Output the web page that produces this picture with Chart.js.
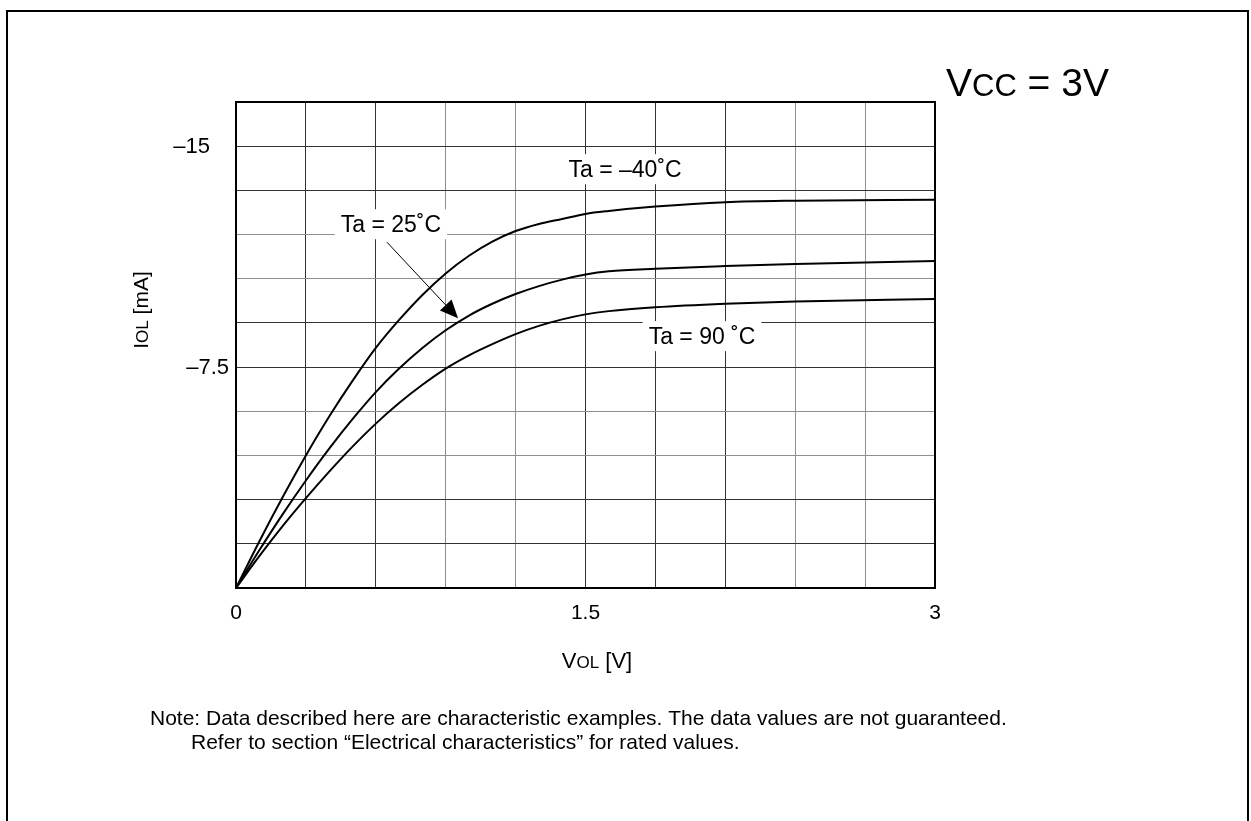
<!DOCTYPE html>
<html>
<head>
<meta charset="utf-8">
<script src="https://cdn.jsdelivr.net/npm/chart.js@4/dist/chart.umd.min.js"></script>
<style>
  html, body { margin: 0; padding: 0; background: #fff; }
  #wrap { width: 1251px; height: 821px; }
</style>
</head>
<body>
<div id="wrap"><canvas id="myChart" width="1251" height="821"></canvas></div>
<script>
// VOL [V] sample points, shared by the three curves
const vol = [0, 0.1, 0.2, 0.3, 0.4, 0.5, 0.6, 0.7, 0.8, 0.9, 1.0, 1.1, 1.2, 1.3, 1.4, 1.5, 1.6, 1.8, 2.1, 2.4, 3.0];

// IOL [mA]
const iolM40 = [0, -1.58, -3.08, -4.5, -5.82, -7.03, -8.15, -9.1, -9.95, -10.68, -11.28, -11.76, -12.12, -12.36, -12.53, -12.7, -12.8, -12.95, -13.1, -13.15, -13.18];
const iol25  = [0, -1.28, -2.5, -3.65, -4.73, -5.73, -6.65, -7.45, -8.15, -8.75, -9.25, -9.65, -9.98, -10.25, -10.47, -10.64, -10.75, -10.84, -10.93, -11.0, -11.1];
const iol90  = [0, -1.08, -2.1, -3.05, -3.95, -4.8, -5.58, -6.28, -6.9, -7.45, -7.9, -8.28, -8.62, -8.9, -9.12, -9.29, -9.4, -9.53, -9.65, -9.73, -9.81];

// tick labels
const xTickValues = [0, 1.5, 3];
const xTickLabels = ["0", "1.5", "3"];
const yTickValues = [-15, -7.5];
const yTickLabels = ["–15", "–7.5"];

// curve labels: text and anchor in data units
const curveLabels = ["Ta = –40˚C", "Ta = 25˚C", "Ta = 90 ˚C"];
const labelAt = [[1.67, -14.22], [0.665, -12.35], [2.0, -8.55]];
// arrow for the 25˚C label (from, to) in data units
const arrowFrom = [0.648, -11.74];
const arrowTo = [0.953, -9.16];

const FONT = "'Liberation Sans', Arial, sans-serif";

function toPts(ys) {
    return vol.map((v, i) => ({ x: v, y: ys[i] }));
}

function near(a, b) { return Math.abs(a - b) < 1e-6; }

// texte avec petites majuscules (IOL, VOL, VCC)
function drawSub(ctx, parts, x, y, align) {
    let total = 0;
    parts.forEach(p => { ctx.font = p.size + "px " + FONT; total += ctx.measureText(p.t).width; });
    let cx = align === "center" ? x - total / 2 : x;
    ctx.textAlign = "left";
    parts.forEach(p => {
        ctx.font = p.size + "px " + FONT;
        ctx.fillText(p.t, cx, y);
        cx += ctx.measureText(p.t).width;
    });
}

const decor = {
    id: "decor",
    beforeDraw(chart) {
        const ctx = chart.ctx;
        ctx.save();
        ctx.fillStyle = "#fff";
        ctx.fillRect(0, 0, chart.width, chart.height);
        ctx.restore();
    },
    afterDatasetsDraw(chart) {
        const ctx = chart.ctx;
        const xs = chart.scales.x, ys = chart.scales.y;
        const a = chart.chartArea;
        ctx.save();

        // cadre du graphique
        ctx.strokeStyle = "#000";
        ctx.lineWidth = 2;
        ctx.strokeRect(a.left, a.top, a.right - a.left, a.bottom - a.top);

        // étiquettes des courbes
        ctx.font = "23px " + FONT;
        ctx.textBaseline = "middle";
        curveLabels.forEach((txt, i) => {
            const px = xs.getPixelForValue(labelAt[i][0]);
            const py = ys.getPixelForValue(labelAt[i][1]);
            const w = ctx.measureText(txt).width;
            ctx.fillStyle = "#fff";
            ctx.fillRect(px - w / 2 - 6, py - 15, w + 12, 30);
            ctx.fillStyle = "#000";
            ctx.textAlign = "center";
            ctx.fillText(txt, px, py + 1);
        });

        // flèche
        const x1 = xs.getPixelForValue(arrowFrom[0]), y1 = ys.getPixelForValue(arrowFrom[1]);
        const x2 = xs.getPixelForValue(arrowTo[0]), y2 = ys.getPixelForValue(arrowTo[1]);
        const ang = Math.atan2(y2 - y1, x2 - x1);
        const hl = 18, hw = 8;
        const bx = x2 - hl * Math.cos(ang), by = y2 - hl * Math.sin(ang);
        ctx.strokeStyle = "#000";
        ctx.lineWidth = 1;
        ctx.beginPath();
        ctx.moveTo(x1, y1);
        ctx.lineTo(bx, by);
        ctx.stroke();
        ctx.fillStyle = "#000";
        ctx.beginPath();
        ctx.moveTo(x2, y2);
        ctx.lineTo(bx + hw * Math.sin(ang), by - hw * Math.cos(ang));
        ctx.lineTo(bx - hw * Math.sin(ang), by + hw * Math.cos(ang));
        ctx.closePath();
        ctx.fill();
        ctx.restore();
    },
    afterDraw(chart) {
        const ctx = chart.ctx;
        const ys = chart.scales.y;
        ctx.save();
        ctx.fillStyle = "#000";

        // y tick labels
        ctx.font = "22px " + FONT;
        ctx.textBaseline = "middle";
        ctx.textAlign = "right";
        const yRight = [210, 229];
        yTickValues.forEach((v, i) => {
            ctx.fillText(yTickLabels[i], yRight[i], ys.getPixelForValue(v) + 1);
        });

        // titre axe Y (vertical)
        ctx.save();
        ctx.translate(148, 310);
        ctx.rotate(-Math.PI / 2);
        ctx.textBaseline = "alphabetic";
        drawSub(ctx, [{ t: "I", size: 21 }, { t: "OL", size: 17 }, { t: " [mA]", size: 21 }], 0, 0, "center");
        ctx.restore();

        // titre axe X
        ctx.textBaseline = "alphabetic";
        drawSub(ctx, [{ t: "V", size: 22 }, { t: "OL", size: 17 }, { t: " [V]", size: 22 }], 597, 668, "center");

        // Vcc
        drawSub(ctx, [{ t: "V", size: 39 }, { t: "CC", size: 31 }, { t: " = 3V", size: 39 }], 946, 96, "left");

        // note
        ctx.font = "21px " + FONT;
        ctx.textAlign = "left";
        ctx.fillText("Note: Data described here are characteristic examples. The data values are not guaranteed.", 150, 725);
        ctx.fillText("Refer to section “Electrical characteristics” for rated values.", 191, 749);

        // bordure de la page
        ctx.strokeStyle = "#000";
        ctx.lineWidth = 2;
        ctx.beginPath();
        ctx.moveTo(7, chart.height);
        ctx.lineTo(7, 11);
        ctx.lineTo(1248, 11);
        ctx.lineTo(1248, chart.height);
        ctx.stroke();
        ctx.restore();
    }
};

const lightX = [0.9, 1.2, 2.4, 2.7];
const lightY = [-12, -10.5, -6, -4.5];

const curveStyle = {
    borderColor: "#000",
    borderWidth: 2,
    pointRadius: 0,
    showLine: true,
    fill: false,
    cubicInterpolationMode: "monotone"
};

const ctx = document.getElementById("myChart").getContext("2d");
const chart = new Chart(ctx, {
    type: "scatter",
    data: {
        datasets: [
            { label: curveLabels[0], data: toPts(iolM40), ...curveStyle },
            { label: curveLabels[1], data: toPts(iol25), ...curveStyle },
            { label: curveLabels[2], data: toPts(iol90), ...curveStyle }
        ]
    },
    options: {
        responsive: false,
        animation: false,
        devicePixelRatio: 1,
        layout: { padding: { left: 0, top: 102, right: 316, bottom: 0 } },
        plugins: {
            legend: { display: false },
            tooltip: { enabled: false }
        },
        scales: {
            x: {
                type: "linear",
                min: 0,
                max: 3,
                afterFit: s => { s.height = 233; },
                ticks: {
                    stepSize: 0.3,
                    autoSkip: false,
                    maxRotation: 0,
                    padding: 13,
                    color: "#000",
                    font: { family: FONT, size: 21 },
                    callback: v => {
                        const i = xTickValues.findIndex(t => near(t, v));
                        return i >= 0 ? xTickLabels[i] : "";
                    }
                },
                grid: {
                    drawTicks: false,
                    lineWidth: 1,
                    color: c => lightX.some(t => near(t, c.tick.value)) ? "#8f8f8f" : "#333"
                },
                border: { display: true, color: "#000", width: 2 }
            },
            y: {
                type: "linear",
                min: -16.5,
                max: 0,
                reverse: true,
                afterFit: s => { s.width = 236; },
                ticks: {
                    stepSize: 1.5,
                    display: false
                },
                grid: {
                    drawTicks: false,
                    lineWidth: 1,
                    color: c => lightY.some(t => near(t, c.tick.value)) ? "#8f8f8f" : "#333"
                },
                border: { display: true, color: "#000", width: 2 }
            }
        }
    },
    plugins: [decor]
});
</script>
</body>
</html>
